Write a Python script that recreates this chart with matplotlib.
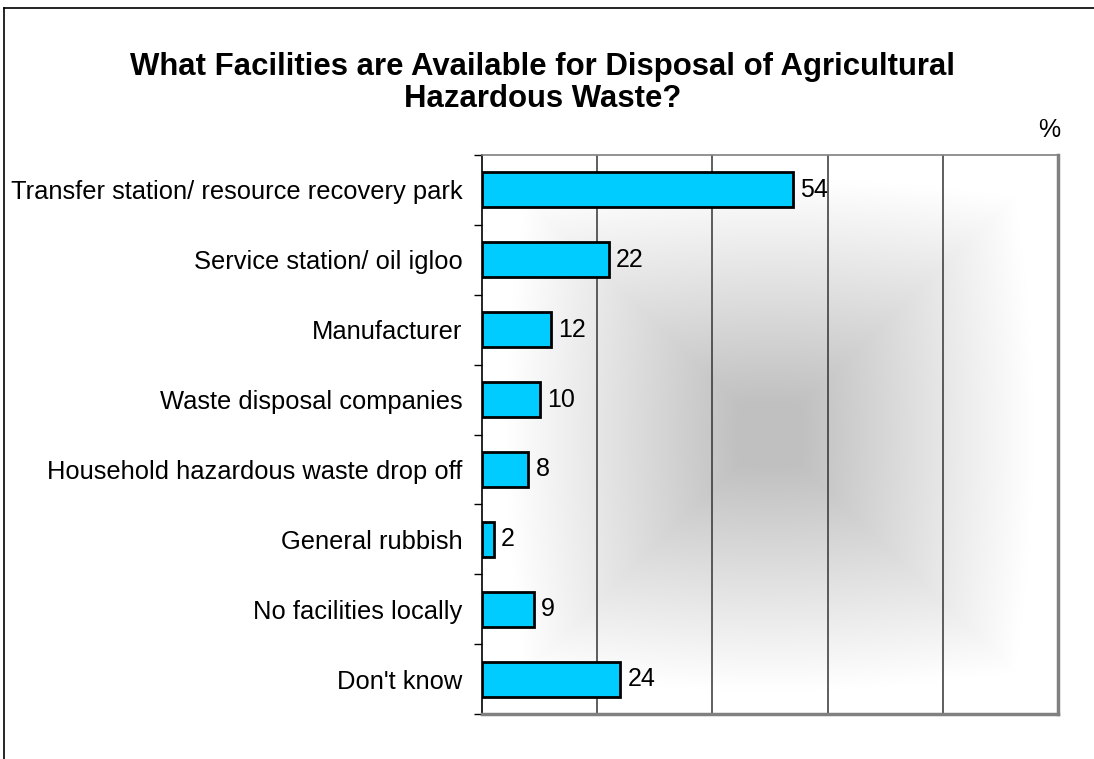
import numpy as np
import matplotlib.pyplot as plt
from matplotlib.lines import Line2D

categories = ['Transfer station/ resource recovery park', 'Service station/ oil igloo',
              'Manufacturer', 'Waste disposal companies', 'Household hazardous waste drop off',
              'General rubbish', 'No facilities locally', "Don't know"]
values = [54, 22, 12, 10, 8, 2, 9, 24]
x_ticks = [0, 20, 40, 60, 80, 100]

plt.rcParams['font.family'] = ['Liberation Sans', 'DejaVu Sans']

W, H = 1094, 759
fig = plt.figure(figsize=(W / 100, H / 100), dpi=100)
ax = fig.add_axes([482 / W, 1 - 714 / H, (1058 - 482) / W, (714 - 155) / H])

n = len(categories)
ypos = np.arange(n)

# "from centre" gradient background of the plot area
gx = np.linspace(-1, 1, 400)
gy = np.linspace(-1, 1, 400)
GX, GY = np.meshgrid(gx, gy)
v = np.maximum(np.abs(GX), np.abs(GY))
r = np.sqrt(GX ** 2 + GY ** 2) / np.sqrt(2)
v = 0.75 * v + 0.25 * r
t = np.clip((v - 0.1) / 0.75, 0, 1)
shade = (192 + 63 * t) / 255
img = np.dstack([shade, shade, shade])
ax.imshow(img, extent=[0, 100, n - 0.5, -0.5], aspect='auto', zorder=0, interpolation='bilinear')

for xv in x_ticks[1:-1]:
    ax.axvline(xv, color='#333333', lw=1.1, zorder=1)

ax.barh(ypos, values, height=0.5, color='#00CCFF', edgecolor='black', linewidth=2, zorder=2)
for y, val in zip(ypos, values):
    ax.text(val + 1.3, y, str(val), va='center', ha='left', fontsize=18, zorder=3)

ax.set_xlim(0, 100)
ax.set_ylim(n - 0.5, -0.5)
ax.set_xticks([])
ax.set_yticks(ypos)
ax.set_yticklabels(categories, fontsize=18.4)
ax.tick_params(axis='y', which='major', length=0, pad=14)
ax.set_yticks(np.arange(n + 1) - 0.5, minor=True)
ax.tick_params(axis='y', which='minor', length=6, width=1, color='black', direction='out')

ax.spines['left'].set_color('black')
ax.spines['left'].set_linewidth(1.2)
for s in ['right', 'bottom']:
    ax.spines[s].set_color('#808080')
    ax.spines[s].set_linewidth(2.5)
ax.spines['top'].set_color('#808080')
ax.spines['top'].set_linewidth(1.2)

fig.text(543 / W, 1 - 67 / H, 'What Facilities are Available for Disposal of Agricultural',
         ha='center', va='center', fontsize=22.4, fontweight='bold')
fig.text(543 / W, 1 - 99 / H, 'Hazardous Waste?',
         ha='center', va='center', fontsize=22.4, fontweight='bold')
fig.text(1049 / W, 1 - 130 / H, '%', ha='center', va='center', fontsize=18)

# chart border (only top and left visible)
fig.add_artist(Line2D([4 / W, 1], [1 - 8 / H, 1 - 8 / H], color='black', lw=1.2))
fig.add_artist(Line2D([4 / W, 4 / W], [0, 1 - 8 / H], color='black', lw=1.2))

fig.savefig('out.png', dpi=100)
